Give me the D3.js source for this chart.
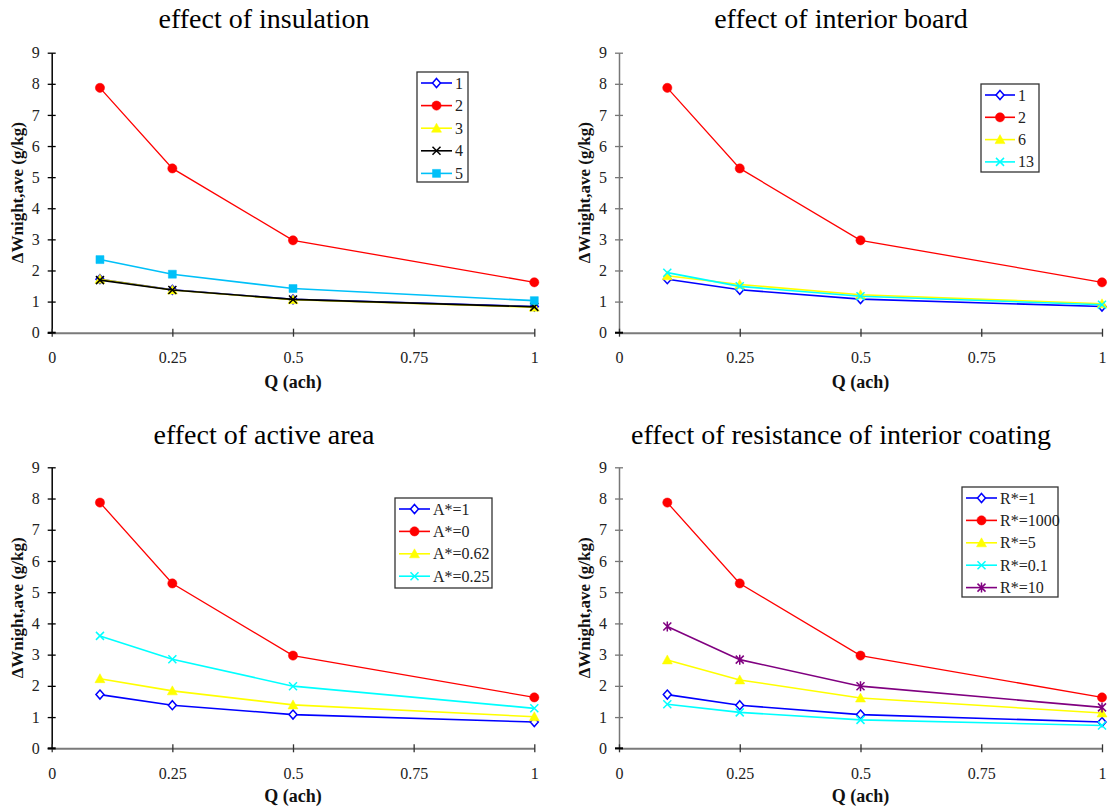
<!DOCTYPE html>
<html>
<head>
<meta charset="utf-8">
<script src="https://cdn.jsdelivr.net/npm/d3@7"></script>
<style>
  html, body { margin: 0; padding: 0; background: #fff; }
  svg, svg text { font-family: "Liberation Serif", "Times New Roman", serif !important; }
</style>
</head>
<body>
<svg id="chart" width="1111" height="808"></svg>
<script>
// ---------- DATA ----------
const qValues = [0.1, 0.25, 0.5, 1];
const xTicks = [0, 0.25, 0.5, 0.75, 1];
const yTicks = [0, 1, 2, 3, 4, 5, 6, 7, 8, 9];

const panelTitles = ["effect of insulation", "effect of interior board",
                     "effect of active area", "effect of resistance of interior coating"];
const yAxisLabel = "\u0394Wnight,ave (g/kg)";
const xAxisLabel = "Q (ach)";

// effect of insulation
const insulationNames = ["1", "2", "3", "4", "5"];
const ins1 = [1.72, 1.38, 1.07, 0.84];
const ins2 = [7.87, 5.28, 2.97, 1.62];
const ins3 = [1.72, 1.37, 1.06, 0.82];
const ins4 = [1.69, 1.37, 1.07, 0.83];
const ins5 = [2.35, 1.88, 1.42, 1.03];

// effect of interior board
const boardNames = ["1", "2", "6", "13"];
const brd1 = [1.72, 1.38, 1.08, 0.84];
const brd2 = [7.87, 5.28, 2.97, 1.62];
const brd6 = [1.83, 1.55, 1.22, 0.93];
const brd13 = [1.93, 1.49, 1.17, 0.90];

// effect of active area
const areaNames = ["A*=1", "A*=0", "A*=0.62", "A*=0.25"];
const area1 = [1.72, 1.38, 1.08, 0.84];
const area0 = [7.87, 5.28, 2.97, 1.63];
const area062 = [2.23, 1.84, 1.39, 1.01];
const area025 = [3.60, 2.85, 1.99, 1.28];

// effect of resistance of interior coating
const resNames = ["R*=1", "R*=1000", "R*=5", "R*=0.1", "R*=10"];
const res1 = [1.72, 1.38, 1.08, 0.84];
const res1000 = [7.87, 5.28, 2.97, 1.63];
const res5 = [2.83, 2.19, 1.61, 1.13];
const res01 = [1.41, 1.15, 0.91, 0.73];
const res10 = [3.90, 2.84, 1.99, 1.31];

// ---------- STYLES ----------
const FONT = "'Liberation Serif', 'Times New Roman', serif";
const BLUE = "#0000ff", RED = "#ff0000", YELLOW = "#ffff00", CYAN = "#00ffff",
      SKY = "#00c0f8", BLACK = "#000000", PURPLE = "#800080";

const markerPaths = {
  diamond: "M0,-4.5L4,0L0,4.5L-4,0Z",
  triangle: "M0,-5L5,4L-5,4Z",
  square: "M-4,-4H4V4H-4Z",
  x: "M-4,-4L4,4M-4,4L4,-4",
  star: "M-4,-4L4,4M-4,4L4,-4M0,-5L0,5"
};
function drawMarker(g, type, color, cx, cy) {
  if (type === "circle") {
    g.append("circle").attr("cx", cx).attr("cy", cy).attr("r", 4.6)
      .attr("fill", color).attr("stroke", color).attr("stroke-width", 0.5);
  } else if (type === "diamond") {
    g.append("path").attr("d", markerPaths.diamond).attr("transform", `translate(${cx},${cy})`)
      .attr("fill", "#fff").attr("stroke", color).attr("stroke-width", 1.5);
  } else if (type === "triangle" || type === "square") {
    g.append("path").attr("d", markerPaths[type]).attr("transform", `translate(${cx},${cy})`)
      .attr("fill", color).attr("stroke", color).attr("stroke-width", 0.5);
  } else {
    g.append("path").attr("d", markerPaths[type]).attr("transform", `translate(${cx},${cy})`)
      .attr("fill", "none").attr("stroke", color).attr("stroke-width", 1.5);
  }
}

// ---------- PANELS ----------
const panels = [
  { title: panelTitles[0], x0: 51.7, x1: 534.3, yb: 332.7, yt: 52.7, titleX: 264, titleY: 28,
    yLabX: 17, yAxisColor: "#000", xLabY: 388,
    legend: { x: 417, y: 72, w: 51, h: 110, rowH: 22.6, lineX1: 421, lineX2: 452, textX: 455 },
    series: [
      { name: insulationNames[0], values: ins1, color: BLUE, marker: "diamond" },
      { name: insulationNames[1], values: ins2, color: RED, marker: "circle" },
      { name: insulationNames[2], values: ins3, color: YELLOW, marker: "triangle" },
      { name: insulationNames[3], values: ins4, color: BLACK, marker: "x" },
      { name: insulationNames[4], values: ins5, color: SKY, marker: "square" }
    ] },
  { title: panelTitles[1], x0: 619, x1: 1102, yb: 332.7, yt: 52.7, titleX: 841, titleY: 28,
    yLabX: 584, yAxisColor: "#777", xLabY: 388,
    legend: { x: 981, y: 84, w: 58, h: 88, rowH: 22.3, lineX1: 985, lineX2: 1015, textX: 1018 },
    series: [
      { name: boardNames[0], values: brd1, color: BLUE, marker: "diamond" },
      { name: boardNames[1], values: brd2, color: RED, marker: "circle" },
      { name: boardNames[2], values: brd6, color: YELLOW, marker: "triangle" },
      { name: boardNames[3], values: brd13, color: CYAN, marker: "x" }
    ] },
  { title: panelTitles[2], x0: 51.7, x1: 534.3, yb: 748.3, yt: 467.3, titleX: 264, titleY: 444,
    yLabX: 17, yAxisColor: "#000", xLabY: 802,
    legend: { x: 395, y: 498, w: 97, h: 90, rowH: 22.4, lineX1: 399, lineX2: 430, textX: 433 },
    series: [
      { name: areaNames[0], values: area1, color: BLUE, marker: "diamond" },
      { name: areaNames[1], values: area0, color: RED, marker: "circle" },
      { name: areaNames[2], values: area062, color: YELLOW, marker: "triangle" },
      { name: areaNames[3], values: area025, color: CYAN, marker: "x" }
    ] },
  { title: panelTitles[3], x0: 619, x1: 1102, yb: 748.3, yt: 467.3, titleX: 841, titleY: 444,
    yLabX: 584, yAxisColor: "#777", xLabY: 802,
    legend: { x: 962, y: 487, w: 96, h: 110, rowH: 22.4, lineX1: 966, lineX2: 997, textX: 1000 },
    series: [
      { name: resNames[0], values: res1, color: BLUE, marker: "diamond" },
      { name: resNames[1], values: res1000, color: RED, marker: "circle" },
      { name: resNames[2], values: res5, color: YELLOW, marker: "triangle" },
      { name: resNames[3], values: res01, color: CYAN, marker: "x" },
      { name: resNames[4], values: res10, color: PURPLE, marker: "star" }
    ] }
];

const svg = d3.select("#chart");

panels.forEach(p => {
  const g = svg.append("g");
  const x = d3.scaleLinear().domain([0, 1]).range([p.x0, p.x1]);
  const y = d3.scaleLinear().domain([0, 9]).range([p.yb, p.yt]);

  // title
  g.append("text").attr("x", p.titleX).attr("y", p.titleY).attr("text-anchor", "middle")
    .style("font-family", FONT).attr("font-size", 28).attr("fill", "#000").text(p.title);

  // y axis
  const yAx = g.append("g").attr("transform", `translate(${p.x0},0)`)
    .call(d3.axisLeft(y).tickValues(yTicks).tickSizeInner(4).tickSizeOuter(0).tickPadding(8)
      .tickFormat(d3.format("d")));
  yAx.attr("font-family", null).style("font-family", FONT);
  yAx.select(".domain").attr("stroke", p.yAxisColor).attr("stroke-width", 1.5);
  yAx.selectAll(".tick line").attr("x1", 4).attr("x2", -4).attr("stroke", p.yAxisColor).attr("stroke-width", 1.3);
  yAx.selectAll(".tick text").attr("font-size", 16).attr("fill", "#222").style("font-family", FONT);

  // x axis
  const xAx = g.append("g").attr("transform", `translate(0,${p.yb})`)
    .call(d3.axisBottom(x).tickValues(xTicks).tickSizeInner(4).tickSizeOuter(0).tickPadding(15)
      .tickFormat(d => String(d)));
  xAx.attr("font-family", null).style("font-family", FONT);
  xAx.select(".domain").attr("stroke", "#7a7a7a").attr("stroke-width", 2);
  xAx.selectAll(".tick line").attr("y1", -4).attr("y2", 4).attr("stroke", "#333").attr("stroke-width", 1.3);
  xAx.selectAll(".tick text").attr("font-size", 16).attr("fill", "#222").style("font-family", FONT);
  // dark origin corner
  g.append("line").attr("x1", p.x0 - 4).attr("x2", p.x0 + 4).attr("y1", p.yb).attr("y2", p.yb)
    .attr("stroke", "#000").attr("stroke-width", 2);

  // axis labels
  g.append("text")
    .attr("transform", `translate(${p.yLabX},${(p.yb + p.yt) / 2}) rotate(-90)`)
    .attr("text-anchor", "middle").attr("dominant-baseline", "central").style("font-family", FONT)
    .attr("font-size", 17).attr("font-weight", "bold").attr("fill", "#111").text(yAxisLabel);
  g.append("text").attr("x", (p.x0 + p.x1) / 2).attr("y", p.xLabY).attr("text-anchor", "middle")
    .style("font-family", FONT)
    .attr("font-size", 18).attr("font-weight", "bold").attr("fill", "#111").text(xAxisLabel);

  // series
  const line = d3.line().x((d, i) => x(qValues[i])).y(d => y(d));
  p.series.forEach(s => {
    g.append("path").attr("d", line(s.values)).attr("fill", "none")
      .attr("stroke", s.color).attr("stroke-width", s.color === RED ? 1.3 : 1.6);
    s.values.forEach((v, i) => drawMarker(g, s.marker, s.color, x(qValues[i]), y(v)));
  });

  // legend
  const L = p.legend;
  g.append("rect").attr("x", L.x).attr("y", L.y).attr("width", L.w).attr("height", L.h)
    .attr("fill", "#fff").attr("stroke", "#333").attr("stroke-width", 1.3);
  p.series.forEach((s, i) => {
    const cy = L.y + 11 + i * L.rowH;
    g.append("line").attr("x1", L.lineX1).attr("x2", L.lineX2).attr("y1", cy).attr("y2", cy)
      .attr("stroke", s.color).attr("stroke-width", 1.6);
    drawMarker(g, s.marker, s.color, (L.lineX1 + L.lineX2) / 2, cy);
    g.append("text").attr("x", L.textX).attr("y", cy).attr("dominant-baseline", "central")
      .style("font-family", FONT).attr("font-size", 16).attr("fill", "#222").text(s.name);
  });
});
</script>
</body>
</html>
